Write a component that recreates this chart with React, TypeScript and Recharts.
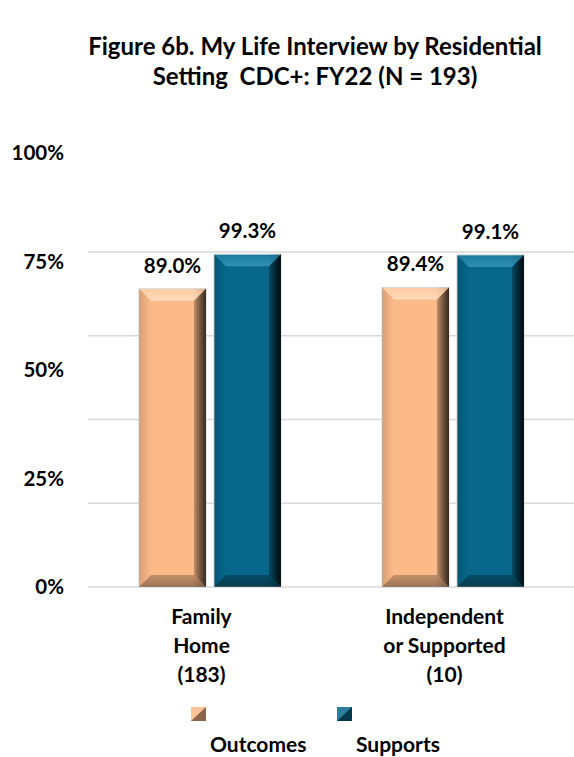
import React from "react";
import {
  Bar,
  BarChart,
  CartesianGrid,
  LabelList,
  Legend,
  XAxis,
  YAxis,
} from "recharts";

// values
const categories = ["Family\nHome\n(183)", "Independent\nor Supported\n(10)"];
const outcomes = [89.0, 89.4];
const supports = [99.3, 99.1];
const seriesNames = ["Outcomes", "Supports"];
const gridTicks = [0, 25, 50, 75, 100];
const labelTicks = [0, 25, 50, 75, 100];

const FONT = 'Lato, "Open Sans", "DejaVu Sans", sans-serif';

const rows = categories.map((name, i) => ({
  name,
  outcomes: outcomes[i],
  supports: supports[i],
}));

type Pal = { base: string; top: string; topA: number; bot: number; right: number; left: number };

const peach: Pal = { base: "#FDBA89", top: "#FFF0DA", topA: 0.6, bot: 0.38, right: 0.72, left: 0.15 };
const teal: Pal = { base: "#07688C", top: "#5FC0E2", topA: 0.45, bot: 0.45, right: 0.85, left: 0.18 };

function BevelBar(props: any) {
  const { x, y, width: w, height: h, pal, gid } = props;
  if (!w || !h || h <= 0) return null;
  const b = Math.min(12, w / 4, h / 4);
  const p = (pts: number[][]) => pts.map((q) => q.join(",")).join(" ");
  return (
    <g>
      <rect x={x} y={y} width={w} height={h} fill={pal.base} stroke="#d4d4d4" strokeWidth={1} />
      <rect x={x} y={y} width={w} height={h} fill={`url(#${gid}-body)`} />
      <polygon
        points={p([[x, y], [x + w, y], [x + w - b, y + b], [x + b, y + b]])}
        fill={`url(#${gid}-top)`}
      />
      <polygon
        points={p([[x, y + h], [x + w, y + h], [x + w - b, y + h - b], [x + b, y + h - b]])}
        fill={`url(#${gid}-bot)`}
      />
      <polygon
        points={p([[x + w, y], [x + w, y + h], [x + w - b, y + h - b], [x + w - b, y + b]])}
        fill={`url(#${gid}-right)`}
      />
      <polygon
        points={p([[x, y], [x, y + h], [x + b, y + h - b], [x + b, y + b]])}
        fill={`url(#${gid}-left)`}
      />
    </g>
  );
}

function Grads({ id, pal }: { id: string; pal: Pal }) {
  return (
    <>
      <linearGradient id={`${id}-body`} x1="0" y1="0" x2="1" y2="0">
        <stop offset="0%" stopColor="#000" stopOpacity={0} />
        <stop offset="80%" stopColor="#000" stopOpacity={0} />
        <stop offset="100%" stopColor="#000" stopOpacity={0.22} />
      </linearGradient>
      <linearGradient id={`${id}-top`} x1="0" y1="0" x2="0" y2="1">
        <stop offset="0%" stopColor={pal.top} stopOpacity={pal.topA * 0.5} />
        <stop offset="100%" stopColor={pal.top} stopOpacity={pal.topA} />
      </linearGradient>
      <linearGradient id={`${id}-bot`} x1="0" y1="0" x2="0" y2="1">
        <stop offset="0%" stopColor="#000" stopOpacity={pal.bot * 0.6} />
        <stop offset="100%" stopColor="#000" stopOpacity={pal.bot} />
      </linearGradient>
      <linearGradient id={`${id}-right`} x1="0" y1="0" x2="1" y2="0">
        <stop offset="0%" stopColor="#000" stopOpacity={pal.right * 0.3} />
        <stop offset="100%" stopColor="#000" stopOpacity={pal.right} />
      </linearGradient>
      <linearGradient id={`${id}-left`} x1="0" y1="0" x2="1" y2="0">
        <stop offset="0%" stopColor="#000" stopOpacity={pal.left} />
        <stop offset="100%" stopColor="#000" stopOpacity={0} />
      </linearGradient>
    </>
  );
}

function CatTick(props: any) {
  const { x, y, payload } = props;
  const lines = String(payload.value).split("\n");
  return (
    <text
      x={x}
      y={y}
      textAnchor="middle"
      fill="#000"
      fontFamily={FONT}
      fontWeight={700}
      fontSize={21}
    >
      {lines.map((l, i) => (
        <tspan key={i} x={x - 8} dy={i === 0 ? 37 : 29}>
          {l}
        </tspan>
      ))}
    </text>
  );
}

function LegendSwatch({ pal }: { pal: Pal }) {
  return (
    <svg width={15} height={14} style={{ display: "block" }}>
      <rect x={0} y={0} width={15} height={14} fill={pal.base} />
      <polygon points="0,14 15,0 15,14" fill="#000" fillOpacity={0.45} />
      <polygon points="0,0 15,0 0,14" fill="#fff" fillOpacity={0.15} />
    </svg>
  );
}

function LegendBox(props: any) {
  const pals = [peach, teal];
  const items = (props.payload ?? []) as any[];
  return (
    <div style={{ height: 50, display: "flex", paddingLeft: 191, boxSizing: "border-box" }}>
      {items.map((it, i) => (
        <div key={it.value} style={{ width: 146 }}>
          <LegendSwatch pal={pals[i]} />
          <div
            style={{
              marginLeft: 19,
              marginTop: 12,
              fontFamily: FONT,
              fontWeight: 700,
              fontSize: 21,
              color: "#000",
              lineHeight: "22px",
              whiteSpace: "nowrap",
            }}
          >
            {it.value}
          </div>
        </div>
      ))}
    </div>
  );
}

const labelStyle = { fill: "#000", fontSize: 20.5, fontWeight: 700, fontFamily: FONT };

// grid lines only at the data ticks, placed through the axis scale
const gridRows = (args: any) => {
  const sc = args?.yAxis?.scale;
  if (typeof sc === "function") return gridTicks.map((t) => sc(t));
  if (sc && typeof sc.map === "function") return gridTicks.map((t) => sc.map(t));
  return [];
};

export default function App() {
  return (
    <div style={{ position: "relative", width: 574, height: 757, background: "#fff" }}>
      <style>{"body{margin:0;background:#fff}"}</style>
      <div
        style={{
          position: "absolute",
          top: 31,
          left: 56,
          width: 518,
          textAlign: "center",
          fontFamily: FONT,
          fontWeight: 700,
          fontSize: 24,
          lineHeight: "30px",
          color: "#000",
        }}
      >
        Figure 6b. My Life Interview by Residential
        <br />
        Setting&nbsp; CDC+: FY22 (N = 193)
      </div>
      <BarChart
        width={574}
        height={757}
        data={rows}
        margin={{ top: 140, right: 0, left: 0, bottom: 0 }}
        barGap={8}
      >
        <defs>
          <Grads id="pch" pal={peach} />
          <Grads id="tel" pal={teal} />
        </defs>
        <CartesianGrid
          yAxisId="v"
          horizontal
          vertical={false}
          horizontalCoordinatesGenerator={gridRows}
          stroke="#d9d9d9"
          strokeWidth={1.5}
        />
        <XAxis
          dataKey="name"
          type="category"
          tick={<CatTick />}
          tickLine={false}
          axisLine={false}
          tickSize={0}
          tickMargin={0}
          height={120}
          interval={0}
        />
        <YAxis
          yAxisId="v"
          type="number"
          hide
          domain={[0, 133.4]}
          ticks={gridTicks}
          allowDataOverflow
        />
        <YAxis
          yAxisId="lab"
          type="number"
          domain={[0, 103]}
          ticks={labelTicks}
          allowDataOverflow
          width={88}
          axisLine={false}
          tickLine={false}
          tickSize={0}
          tickMargin={24}
          tickFormatter={(v) => `${v}%`}
          tick={{ fill: "#000", fontSize: 20.5, fontWeight: 700, fontFamily: FONT }}
        />
        <Legend verticalAlign="bottom" content={<LegendBox />} />
        <Bar
          dataKey="outcomes"
          name={seriesNames[0]}
          yAxisId="v"
          fill={peach.base}
          barSize={67}
          shape={(p: any) => <BevelBar {...p} pal={peach} gid="pch" />}
          isAnimationActive={false}
        >
          <LabelList
            dataKey="outcomes"
            position="top"
            offset={16}
            formatter={(v: any) => `${Number(v).toFixed(1)}%`}
            {...labelStyle}
          />
        </Bar>
        <Bar
          dataKey="supports"
          name={seriesNames[1]}
          yAxisId="v"
          fill={teal.base}
          barSize={67}
          shape={(p: any) => <BevelBar {...p} pal={teal} gid="tel" />}
          isAnimationActive={false}
        >
          <LabelList
            dataKey="supports"
            position="top"
            offset={16}
            formatter={(v: any) => `${Number(v).toFixed(1)}%`}
            {...labelStyle}
          />
        </Bar>
      </BarChart>
    </div>
  );
}
